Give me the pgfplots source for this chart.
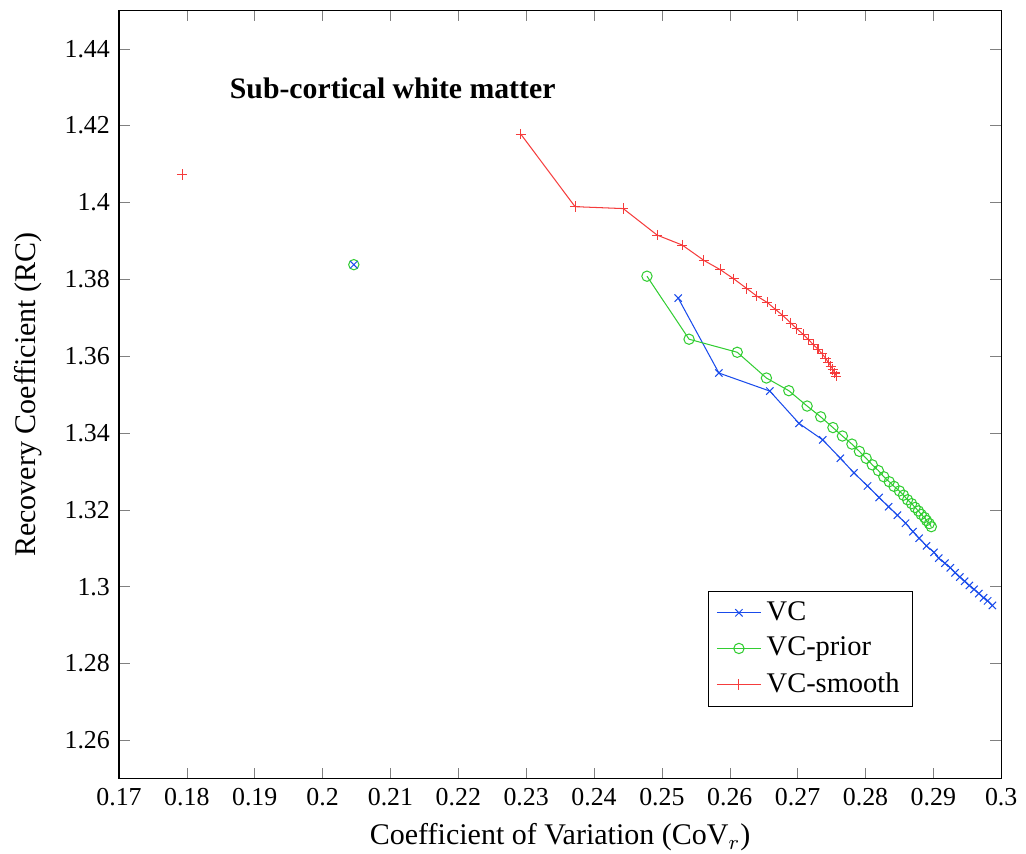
\documentclass[border=0pt]{standalone}
\usepackage{fontspec}
\setmainfont{Liberation Serif}
\usepackage{pgfplots}
\pgfplotsset{compat=1.18}
\definecolor{cblue}{RGB}{25,75,235}
\definecolor{cgreen}{RGB}{50,205,50}
\definecolor{cred}{RGB}{245,60,60}
\begin{document}
\begin{tikzpicture}
\begin{axis}[
  scale only axis,
  width=341pt, height=297pt,
  xmin=0.17, xmax=0.3, ymin=1.25, ymax=1.45,
  xtick={0.17,0.18,...,0.3},
  ytick={1.26,1.28,...,1.44},
  /pgf/number format/assume math mode=true,
  xticklabel style={/pgf/number format/.cd,fixed,precision=2},
  yticklabel style={/pgf/number format/.cd,fixed,precision=2},
  xlabel={Coefficient of Variation (CoV$_r$)},
  ylabel={Recovery Coefficient (RC)},
  label style={font=\fontsize{11.6}{14}\selectfont},
  xlabel style={yshift=-2.5pt, inner sep=1pt},
  ylabel style={yshift=2pt},
  legend style={at={(0.9,0.093)}, anchor=south east, font=\fontsize{11}{13}\selectfont, legend cell align=left, row sep=1pt},
]
\addplot[color=cblue, mark=x, mark size=2pt] coordinates {
(0.2524,1.3751) (0.2584,1.3556) (0.2659,1.3509) (0.2702,1.3425) (0.2737,1.3382)
(0.2763,1.3334) (0.2783,1.3296) (0.2803,1.3262) (0.2820,1.3232) (0.2834,1.3208)
(0.2847,1.3186) (0.2859,1.3165) (0.2870,1.3143) (0.2879,1.3126) (0.2890,1.3106)
(0.2901,1.3089) (0.2908,1.3074) (0.2917,1.3061) (0.2925,1.3049) (0.2932,1.3036)
(0.2939,1.3025) (0.2946,1.3014) (0.2953,1.3003) (0.2960,1.2993) (0.2967,1.2982)
(0.2974,1.2971) (0.2980,1.2963) (0.2987,1.2951)
};
\addlegendentry{VC}
\addplot[color=cgreen, mark=o, mark size=2pt] coordinates {
(0.2478,1.3808) (0.2540,1.3644) (0.2611,1.3610) (0.2654,1.3543) (0.2687,1.3510)
(0.2714,1.3470) (0.2734,1.3442) (0.2752,1.3414) (0.2766,1.3392) (0.2780,1.3371)
(0.2791,1.3352) (0.2801,1.3334) (0.2810,1.3317) (0.2819,1.3302) (0.2827,1.3286)
(0.2835,1.3273) (0.2842,1.3261) (0.2850,1.3249) (0.2856,1.3238) (0.2862,1.3226)
(0.2868,1.3216) (0.2873,1.3206) (0.2878,1.3197) (0.2882,1.3188) (0.2887,1.3180)
(0.2890,1.3172) (0.2894,1.3164) (0.2897,1.3156)
};
\addlegendentry{VC-prior}
\addplot[color=cred, mark=+, mark size=2pt] coordinates {
(0.2292,1.4178) (0.2372,1.3989) (0.2443,1.3984) (0.2493,1.3915) (0.2530,1.3889)
(0.2562,1.3849) (0.2586,1.3825) (0.2606,1.3801) (0.2625,1.3776) (0.2640,1.3756)
(0.2655,1.3740) (0.2667,1.3722) (0.2678,1.3706) (0.2690,1.3686) (0.2699,1.3671)
(0.2708,1.3657) (0.2716,1.3643) (0.2723,1.3630) (0.2730,1.3618) (0.2736,1.3606)
(0.2741,1.3595) (0.2745,1.3584) (0.2749,1.3574) (0.2752,1.3565) (0.2755,1.3556)
(0.2757,1.3548)
};
\addlegendentry{VC-smooth}
\addplot[color=cgreen, mark=o, mark size=2pt, only marks, forget plot] coordinates {(0.2046,1.3838)};
\addplot[color=cblue, mark=x, mark size=2pt, only marks, forget plot] coordinates {(0.2046,1.3838)};
\addplot[color=cred, mark=+, mark size=2pt, only marks, forget plot] coordinates {(0.1793,1.4073)};
\node[anchor=west, font=\fontsize{11.5}{14}\selectfont\bfseries] at (axis cs:0.1850,1.4297) {Sub-cortical white matter};
\end{axis}
\path ([xshift=-46pt,yshift=4pt]current axis.north west) rectangle ([xshift=8pt]current axis.south east);
\end{tikzpicture}
\end{document}
